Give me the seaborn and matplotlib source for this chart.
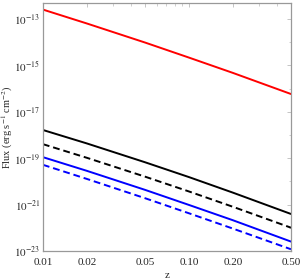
import numpy as np
import pandas as pd
import matplotlib
matplotlib.use("Agg")
import matplotlib.pyplot as plt
import matplotlib.ticker as mticker
import seaborn as sns

z = [0.01, 0.02, 0.05, 0.10, 0.20, 0.50]
flux_red = [2.57e-13, 6.46e-14, 9.77e-15, 2.19e-15, 4.79e-16, 5.89e-17]
flux_black = [1.66e-18, 4.37e-19, 6.76e-20, 1.55e-20, 3.31e-21, 3.98e-22]
flux_black_dash = [4.07e-19, 1.05e-19, 1.62e-20, 3.72e-21, 8.13e-22, 1.02e-22]
flux_blue = [1.12e-19, 2.88e-20, 4.37e-21, 9.77e-22, 2.14e-22, 2.57e-23]
flux_blue_dash = [5.25e-20, 1.29e-20, 1.91e-21, 4.27e-22, 9.33e-23, 1.20e-23]

xticks = [0.01, 0.02, 0.05, 0.10, 0.20, 0.50]
xticklabels = ["0.01", "0.02", "0.05", "0.10", "0.20", "0.50"]
yticks = [1e-23, 1e-21, 1e-19, 1e-17, 1e-15, 1e-13]
yticklabels = [r"$10^{-23}$", r"$10^{-21}$", r"$10^{-19}$", r"$10^{-17}$", r"$10^{-15}$", r"$10^{-13}$"]

sns.set_style("white")
plt.rcParams["font.family"] = ["Liberation Serif", "DejaVu Serif"]
plt.rcParams["mathtext.fontset"] = "stix"

fig = plt.figure(figsize=(3.0, 2.79), dpi=100)
ax = fig.add_axes([0.143, 0.100, 0.827, 0.889])

series = [
    (flux_red, "red", "-"),
    (flux_black, "black", "-"),
    (flux_black_dash, "black", (0, (3.5, 2))),
    (flux_blue, "blue", "-"),
    (flux_blue_dash, "blue", (0, (3.5, 2))),
]
for vals, col, ls in series:
    df = pd.DataFrame({"z": z, "flux": vals})
    sns.lineplot(data=df, x="z", y="flux", ax=ax, color=col, linewidth=1.4,
                 linestyle=ls, estimator=None, sort=True)

ax.set_xscale("log")
ax.set_yscale("log")
ax.set_xlim(0.01, 0.5)
ax.set_ylim(1e-23, 10 ** -12.31)

ax.xaxis.set_major_locator(mticker.FixedLocator(xticks))
ax.xaxis.set_major_formatter(mticker.FixedFormatter(xticklabels))
ax.xaxis.set_minor_locator(mticker.FixedLocator([0.03, 0.04, 0.06, 0.07, 0.08, 0.09, 0.3, 0.4]))
ax.xaxis.set_minor_formatter(mticker.NullFormatter())
ax.yaxis.set_major_locator(mticker.FixedLocator(yticks))
ax.yaxis.set_major_formatter(mticker.FixedFormatter(yticklabels))
ax.yaxis.set_minor_locator(mticker.FixedLocator([1e-22, 1e-20, 1e-18, 1e-16, 1e-14]))
ax.yaxis.set_minor_formatter(mticker.NullFormatter())

ax.tick_params(which="both", direction="in", top=True, right=True, color="#bbbbbb",
               labelsize=8)
ax.tick_params(axis="y", pad=2)
ax.tick_params(axis="x", pad=5)
ax.tick_params(which="major", length=3, width=0.6)
ax.tick_params(which="minor", length=1.8, width=0.5)

for s in ax.spines.values():
    s.set_color("#999999")
    s.set_linewidth(0.9)

ax.set_xlabel("z", fontsize=8, labelpad=3)
ax.set_ylabel(r"Flux (erg s$^{-1}$ cm$^{-2}$)", fontsize=7.5)
ax.yaxis.set_label_coords(-0.112, 0.5)

fig.savefig("out.png", dpi=100)
